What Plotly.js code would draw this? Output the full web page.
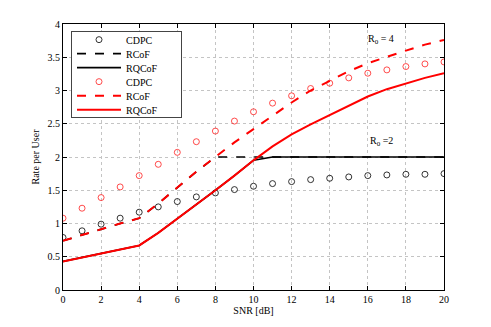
<!DOCTYPE html>
<html>
<head>
<meta charset="utf-8">
<script src="https://cdn.plot.ly/plotly-3.0.1.min.js"></script>
<style>
  html, body { margin: 0; padding: 0; background: #fff; }
  #chart { width: 491px; height: 327px; }
</style>
</head>
<body>
<div id="chart"></div>
<script>
const snr = [0, 1, 2, 3, 4, 5, 6, 7, 8, 9, 10, 11, 12, 13, 14, 15, 16, 17, 18, 19, 20];

// R0 = 2
const cdpc2 = [0.79, 0.89, 0.99, 1.08, 1.17, 1.25, 1.33, 1.40, 1.46, 1.51, 1.56, 1.60, 1.63, 1.66, 1.68, 1.70, 1.72, 1.73, 1.74, 1.74, 1.75];
const rcof2 = [0.74, 0.83, 0.92, 1.00, 1.08, 1.30, 1.54, 1.78, 2.00, 2.00, 2.00, 2.00, 2.00, 2.00, 2.00, 2.00, 2.00, 2.00, 2.00, 2.00, 2.00];
const rqcof2 = [0.43, 0.49, 0.55, 0.61, 0.67, 0.86, 1.07, 1.29, 1.50, 1.72, 1.95, 2.00, 2.00, 2.00, 2.00, 2.00, 2.00, 2.00, 2.00, 2.00, 2.00];

// R0 = 4
const cdpc4 = [1.08, 1.23, 1.39, 1.55, 1.72, 1.89, 2.07, 2.23, 2.39, 2.54, 2.68, 2.81, 2.92, 3.03, 3.11, 3.19, 3.26, 3.31, 3.36, 3.40, 3.43];
const rcof4 = [0.74, 0.83, 0.92, 1.00, 1.08, 1.30, 1.54, 1.78, 2.00, 2.22, 2.42, 2.62, 2.82, 3.00, 3.15, 3.29, 3.41, 3.51, 3.60, 3.69, 3.76];
const rqcof4 = [0.43, 0.49, 0.55, 0.61, 0.67, 0.86, 1.07, 1.29, 1.50, 1.72, 1.95, 2.16, 2.34, 2.49, 2.63, 2.78, 2.91, 3.02, 3.11, 3.19, 3.26];

const font = "Liberation Serif, Times New Roman, serif";

const circles = (y, color) => ({
  x: snr, y, type: "scatter", mode: "markers", name: "CDPC",
  marker: { symbol: "circle-open", size: 6, color, line: { width: 0.8, color } }
});
const line = (y, color, dash, width, name) => ({
  x: snr, y, type: "scatter", mode: "lines", name,
  line: { color, dash, width }
});

const traces = [
  circles(cdpc2, "#000"),
  line(rcof2, "#000", "dash", 1.6, "RCoF"),
  line(rqcof2, "#000", "solid", 1.6, "RQCoF"),
  circles(cdpc4, "#ff2020"),
  line(rcof4, "#ff0000", "dash", 2, "RCoF"),
  line(rqcof4, "#ff0000", "solid", 2, "RQCoF")
];

const axisCommon = {
  showline: true,
  linecolor: "#000",
  linewidth: 1,
  mirror: "ticks",
  ticks: "inside",
  ticklen: 4,
  tickcolor: "#000",
  showgrid: true,
  gridcolor: "#c4c4c4",
  griddash: "dot",
  gridwidth: 1,
  zeroline: false,
  tickfont: { family: font, size: 10, color: "#000" }
};

const layout = {
  width: 491,
  height: 327,
  margin: { l: 63, r: 47, t: 24, b: 37 },
  paper_bgcolor: "#fff",
  plot_bgcolor: "#fff",
  font: { family: font, color: "#000" },
  showlegend: true,
  legend: {
    x: 0.021, y: 0.975, xanchor: "left", yanchor: "top",
    bgcolor: "#fff",
    bordercolor: "#444",
    borderwidth: 1,
    itemwidth: 44,
    font: { family: font, size: 10, color: "#000" },
    tracegroupgap: 0
  },
  xaxis: {
    ...axisCommon,
    range: [0, 20],
    dtick: 2,
    title: { text: "SNR [dB]", font: { family: font, size: 10 }, standoff: 2 }
  },
  yaxis: {
    ...axisCommon,
    range: [0, 4],
    dtick: 0.5,
    title: { text: "Rate per User", font: { family: font, size: 10 }, standoff: 6 }
  },
  annotations: [
    { x: 16.7, y: 3.77, text: "R<sub>0</sub> = 4", showarrow: false, font: { family: font, size: 10 } },
    { x: 16.7, y: 2.23, text: "R<sub>0</sub> =2", showarrow: false, font: { family: font, size: 10 } }
  ]
};

function tightenLegend(gd) {
  // plotly enforces a taller minimum row height; pack rows and widen the box like the original
  const rowH = 14;
  const legend = gd.querySelector("g.legend");
  if (!legend) return;
  const items = legend.querySelectorAll("g.traces");
  items.forEach((g, i) => {
    const m = /translate\(([-\d.]+)[ ,]+([-\d.]+)\)/.exec(g.getAttribute("transform") || "");
    const x = m ? m[1] : 0;
    g.setAttribute("transform", `translate(${x},${9 + i * rowH})`);
  });
  const bg = legend.querySelector("rect.bg");
  if (bg) {
    bg.setAttribute("height", 2 + items.length * rowH);
    bg.setAttribute("width", 110);
  }
}

Plotly.newPlot("chart", traces, layout, { displayModeBar: false, staticPlot: true }).then(gd => {
  tightenLegend(gd);
  gd.on("plotly_afterplot", () => tightenLegend(gd));
});
</script>
</body>
</html>
